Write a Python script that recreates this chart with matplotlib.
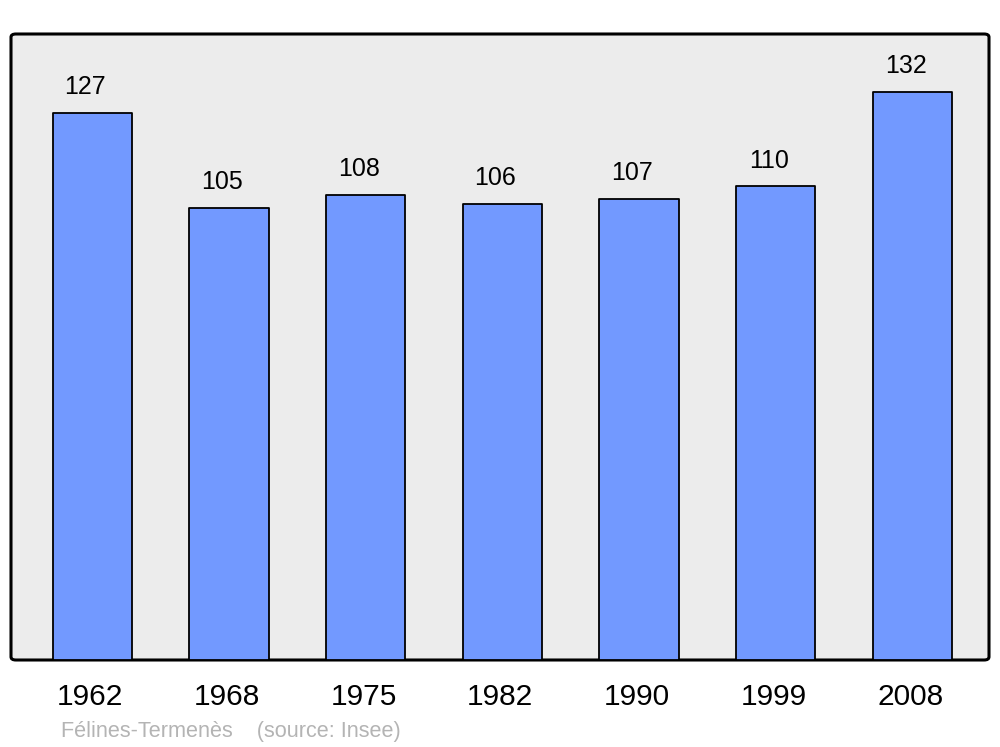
import matplotlib
matplotlib.use('Agg')
import matplotlib.pyplot as plt
from matplotlib.patches import FancyBboxPatch
import numpy as np

years = ['1962', '1968', '1975', '1982', '1990', '1999', '2008']
population = [127, 105, 108, 106, 107, 110, 132]

plt.rcParams['font.family'] = ['Liberation Sans', 'DejaVu Sans']

fig = plt.figure(figsize=(10, 7.47), dpi=100)
W, H = 1000, 747
# axes box in pixels: x 11..989, y 34..660
ax = fig.add_axes([11 / W, 1 - 660 / H, 978 / W, 626 / H])
ax.set_facecolor('none')
for s in ax.spines.values():
    s.set_visible(False)

# rounded grey frame
frame = FancyBboxPatch((0, 0), 1, 1,
                       boxstyle='round,pad=0,rounding_size=0.005',
                       transform=ax.transAxes, facecolor='#ececec',
                       edgecolor='black', linewidth=2.2, zorder=0,
                       clip_on=False)
ax.add_patch(frame)

x = np.arange(len(years))
bars = ax.bar(x, population, width=0.58, color='#7299ff', edgecolor='black',
              linewidth=1.3, joinstyle='round', zorder=2)

for xi, v in zip(x, population):
    ax.annotate(str(v), (xi, v), xytext=(-5, 10), textcoords='offset points',
                ha='center', va='bottom', fontsize=18, color='black')

ax.set_xlim(-0.595, len(years) - 1 + 0.56)
ax.set_ylim(0, 145.4)
ax.set_xticks([])
ax.set_yticks([])

for xi, yr in zip(x, years):
    ax.annotate(yr, (xi, 0), xytext=(-1.5, -26.5), textcoords='offset points',
                ha='center', va='center', fontsize=21.5, color='black',
                annotation_clip=False)

fig.text(61 / W, 1 - 731 / H, 'Félines-Termenès    (source: Insee)',
         ha='left', va='center', fontsize=15.6, color='#b4b4b4')

fig.savefig('out.png', dpi=100)
